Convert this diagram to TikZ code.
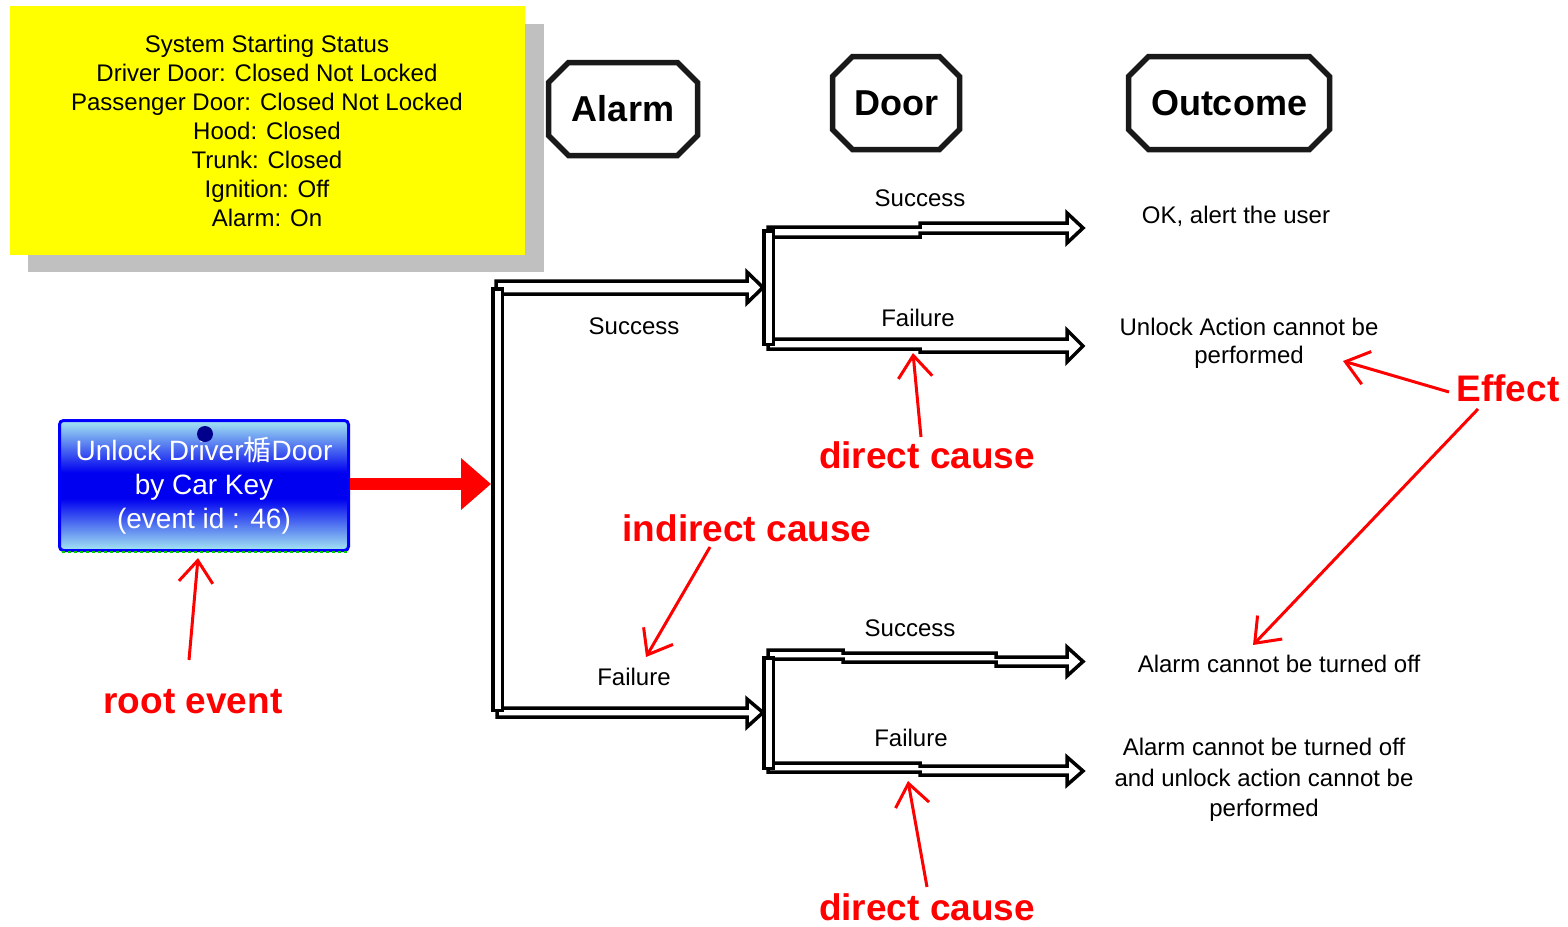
\documentclass[tikz,border=0pt]{standalone}
\usepackage{fontspec}
\setmainfont{Liberation Sans}
\newfontfamily\cjkfont{Noto Sans CJK SC}
\usetikzlibrary{arrows.meta,shapes.misc,calc}
\definecolor{ylw}{HTML}{FFFF00}
\definecolor{shadowgray}{HTML}{C0C0C0}
\definecolor{evblue}{HTML}{0000F0}
\definecolor{evcyan}{HTML}{A4E8F2}
\definecolor{evborder}{HTML}{0000FF}
\definecolor{pure red}{HTML}{FF0000}
\pgfdeclareverticalshading{evshade}{100bp}{%
  color(0bp)=(evcyan); color(25bp)=(evcyan); color(45bp)=(evblue);
  color(55bp)=(evblue); color(75bp)=(evcyan); color(100bp)=(evcyan)}
\begin{document}
\begin{tikzpicture}[x=1pt,y=-1pt,
  small/.style={font=\fontsize{24}{29}\selectfont, align=center, inner sep=0pt},
  hdr/.style={chamfered rectangle, chamfered rectangle xsep=10pt, chamfered rectangle ysep=10pt,
     draw=black!90, line width=5.5pt,
     font=\fontsize{36}{40}\selectfont\bfseries, inner sep=0pt},
  redlbl/.style={text=pure red, font=\fontsize{37}{40}\selectfont\bfseries, inner sep=0pt},
  redarr/.style={draw=pure red, line width=3pt, -{Straight Barb[length=22pt,width=34pt,line width=3pt]}},
  dbl/.style={draw=black, line width=3.5pt, line join=miter},
  bar/.style={draw=black, fill=white, line width=3.5pt, minimum width=9.5pt, inner sep=0pt}
]
\useasboundingbox (0,0) rectangle (1568,926);
\fill[white] (0,0) rectangle (1568,926);

% status box with shadow
\fill[shadowgray] (28,24) rectangle (544,272);
\fill[ylw] (10,6) rectangle (525,255);
\node[small] (status) at (267,131) {System Starting Status\\
Driver Door: Closed Not Locked\\
Passenger Door: Closed Not Locked\\
Hood: Closed\\
Trunk: Closed\\
Ignition: Off\\
Alarm: On};

% headers
\node[hdr, minimum width=149pt, minimum height=93pt] (halarm) at (623,109) {Alarm};
\node[hdr, minimum width=127pt, minimum height=93pt] (hdoor) at (896,103) {Door};
\node[hdr, minimum width=201pt, minimum height=93pt] (hout) at (1229,103) {Outcome};

% root event
\node[rectangle, rounded corners=4pt, draw=evborder, line width=3pt,
      shading=evshade,
      minimum width=289pt, minimum height=130pt, inner sep=0pt,
      text=white, align=center, font=\fontsize{28}{34}\selectfont] (event) at (204,485.5)
      {Unlock Driver{\cjkfont 楯}Door\\by Car Key\\(event id : 46)};
\draw[green!80!black, line width=2pt, dash pattern=on 3pt off 3pt] (62,552) -- (347,552);
\fill[blue!55!black] (205,434) circle (8);

% bars
\node[bar, minimum height=421.5pt] (alarmbar) at (497.5,499.5) {};
\node[bar, minimum height=113.5pt] (doorbarA) at (768.5,287.5) {};
\node[bar, minimum height=110.5pt] (doorbarB) at (768.5,713) {};

% red thick arrow
\draw[pure red, line width=12pt, -{Triangle[length=30pt,width=50pt]}]
  (event.east |- 0,484) -- (alarmbar.west |- 0,484);

% alarm -> door branches
\draw[dbl] (496,287) -- (496,281) -- (747,281) -- (747,272) -- (763,287.5) -- (747,303) -- (747,294) -- (503,294);
\draw[dbl] (503,708) -- (747,708) -- (747,699) -- (763,712.5) -- (747,727) -- (747,717) -- (497,717) -- (497,712);

% upper door branches
\draw[dbl] (768,229) -- (768,227) -- (920,227) -- (920,223) -- (1067,223) -- (1067,213) -- (1083,228) -- (1067,243) -- (1067,233) -- (920,233) -- (920,237) -- (774,237);
\draw[dbl] (774,339) -- (1067,339) -- (1067,330) -- (1083,346) -- (1067,362) -- (1067,352) -- (920,352) -- (920,349) -- (768,349) -- (768,346);

% lower door branches
\draw[dbl] (768,656) -- (768,650) -- (843,650) -- (843,653) -- (996,653) -- (996,657) -- (1067,657) -- (1067,647) -- (1083,661.5) -- (1067,676) -- (1067,666) -- (996,666) -- (996,662) -- (843,662) -- (843,659) -- (774,659);
\draw[dbl] (774,763) -- (920,763) -- (920,766) -- (1067,766) -- (1067,757) -- (1083,771) -- (1067,785) -- (1067,775) -- (920,775) -- (920,772) -- (768,772) -- (768,770);

% branch labels
\node[small] (s1) at (634,326) {Success};
\node[small] (f1) at (634,677) {Failure};
\node[small] (s2) at (920,198) {Success};
\node[small] (f2) at (918,318) {Failure};
\node[small] (s3) at (910,628) {Success};
\node[small] (f3) at (911,738) {Failure};

% outcomes
\node[small] (o1) at (1236,216) {OK, alert the user};
\node[small, font=\fontsize{24}{28}\selectfont] (o2) at (1249,343) {Unlock Action cannot be\\performed};
\node[small] (o3) at (1279,664) {Alarm cannot be turned off};
\node[small, font=\fontsize{24}{30.5}\selectfont] (o4) at (1264,780) {Alarm cannot be turned off\\and unlock action cannot be\\performed};

% red annotations
\node[redlbl] (lroot) at (193,702) {root event};
\node[redlbl] (ldc1) at (927,455) {direct cause};
\node[redlbl] (lind) at (747,528) {indirect cause};
\node[redlbl] (ldc2) at (927,907) {direct cause};
\node[redlbl] (leff) at (1508,388) {Effect};

\coordinate (rootS) at (189,660);  \coordinate (rootT) at (198,558);
\coordinate (dc1S) at (921,437);   \coordinate (dc1T) at (913,353);
\coordinate (indS) at (710,547);   \coordinate (indT) at (646,657);
\coordinate (dc2S) at (927,887);   \coordinate (dc2T) at (908,781);
\coordinate (effS1) at (1449,392); \coordinate (effT1) at (1343,361);
\coordinate (effS2) at (1478,409); \coordinate (effT2) at (1253,645);

\draw[redarr] (rootS) -- (rootT);
\draw[redarr] (dc1S) -- (dc1T);
\draw[redarr] (indS) -- (indT);
\draw[redarr] (dc2S) -- (dc2T);
\draw[redarr] (effS1) -- (effT1);
\draw[redarr] (effS2) -- (effT2);
\end{tikzpicture}
\end{document}
